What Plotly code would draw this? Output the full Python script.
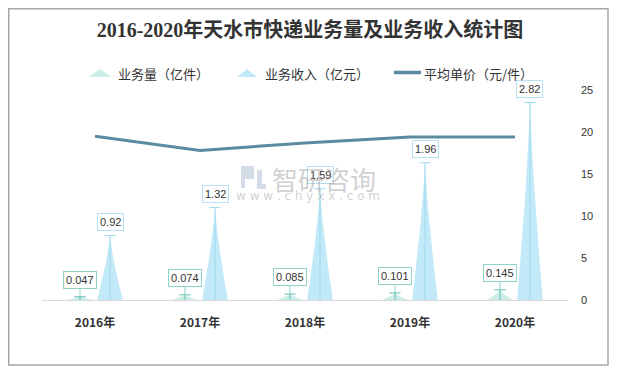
import plotly.graph_objects as go

years = ["2016年", "2017年", "2018年", "2019年", "2020年"]
volume = [0.047, 0.074, 0.085, 0.101, 0.145]      # 业务量（亿件）
revenue = [0.92, 1.32, 1.59, 1.96, 2.82]         # 业务收入（亿元）
avg_price = [19.5, 17.8, 18.7, 19.4, 19.4]       # 平均单价（元/件）
right_ticks = [0, 5, 10, 15, 20, 25]
legend_names = ["业务量（亿件）", "业务收入（亿元）", "平均单价（元/件）"]

W, H = 609, 360
ML, MR, MT, MB = 34, 49, 82, 68
PW, PH = W - ML - MR, H - MT - MB


def pxx(x):
    return (x - ML) / PW


def pxy(y):
    return (H - MB - y) / PH


OFF = 0.143
HALF = 0.122
N_SEG = 12
EXP = 1.3

vol_fill = "#cdeee8"
vol_edge = "#5fc0b0"
rev_fill = "#c2e9f8"
rev_edge = "#9fd8ee"
line_col = "#5a8ba1"


def spike_path(xc, v):
    xs, ys = [], []
    for k in range(N_SEG + 1):
        h = k / N_SEG
        xs.append(xc - HALF * (1 - h) ** EXP)
        ys.append(v * h)
    for k in range(N_SEG - 1, -1, -1):
        h = k / N_SEG
        xs.append(xc + HALF * (1 - h) ** EXP)
        ys.append(v * h)
    xs.append(None)
    ys.append(None)
    return xs, ys


fig = go.Figure()

for vals, off, fill, edge in [(volume, -OFF, vol_fill, vol_edge), (revenue, OFF, rev_fill, rev_edge)]:
    px, py, cx, cy = [], [], [], []
    for i, v in enumerate(vals):
        a, b = spike_path(i + off, v)
        px += a
        py += b
        cx += [i + off, i + off, None]
        cy += [0, v, None]
    fig.add_trace(go.Scatter(x=px, y=py, mode="lines", fill="toself", fillcolor=fill,
                             line=dict(width=0, color=fill), showlegend=False,
                             hoverinfo="skip", yaxis="y"))
    fig.add_trace(go.Scatter(x=cx, y=cy, mode="lines", line=dict(width=1, color=edge),
                             showlegend=False, hoverinfo="skip", yaxis="y"))
    fig.add_trace(go.Scatter(x=[i + off for i in range(len(vals))], y=vals, mode="markers",
                             marker=dict(symbol="line-ew", size=8, line=dict(width=1, color=edge)),
                             showlegend=False, hoverinfo="skip", yaxis="y"))

fig.add_trace(go.Scatter(x=list(range(len(years))), y=avg_price, mode="lines",
                         name=legend_names[2], line=dict(color=line_col, width=3),
                         yaxis="y2", showlegend=False))

txt_font = dict(size=11, color="#333333", family="Liberation Sans, Arial")
annos = []
for i, v in enumerate(revenue):
    annos.append(dict(x=i + OFF, y=v, xref="x", yref="y", text=f"{v:.2f}", showarrow=False,
                      yshift=14, bgcolor="rgba(255,255,255,0.9)", bordercolor="#b5e2f3",
                      borderwidth=1, borderpad=2, font=txt_font))
for i, v in enumerate(volume):
    annos.append(dict(x=i - OFF, y=v, xref="x", yref="y", text=f"{v:g}", showarrow=True,
                      ax=0, ay=-17, arrowhead=0, arrowwidth=1, arrowcolor="#8fd3c8",
                      bgcolor="white", bordercolor="#8fd3c8", borderwidth=1, borderpad=2,
                      font=txt_font))

# watermark
wm = "rgba(150,150,150,0.45)"
annos.append(dict(x=pxx(316), y=pxy(170), xref="paper", yref="paper", text="智研咨询",
                  showarrow=False, font=dict(size=26, color=wm, family="Noto Sans CJK SC")))
annos.append(dict(x=pxx(300), y=pxy(188), xref="paper", yref="paper",
                  text="w w w . c h y x x . c o m", showarrow=False,
                  font=dict(size=12, color=wm, family="DejaVu Sans")))

# manual legend texts
leg_font = dict(size=13, color="#333333", family="Noto Sans CJK SC")
for name, x0 in zip(legend_names, [108, 255, 414]):
    annos.append(dict(x=pxx(x0), y=pxy(65), xref="paper", yref="paper", text=name,
                      showarrow=False, xanchor="left", yanchor="middle", font=leg_font))

shapes = [
    # outer frame
    dict(type="rect", xref="paper", yref="paper", x0=pxx(0.75), x1=pxx(600), y0=pxy(357),
         y1=pxy(0.75), line=dict(color="#a6a6a6", width=1.5), fillcolor="rgba(0,0,0,0)",
         layer="below"),
    # legend icons
    dict(type="path", xref="paper", yref="paper",
         path=f"M {pxx(80)},{pxy(69)} L {pxx(92)},{pxy(61)} L {pxx(104)},{pxy(69)} Z",
         fillcolor=vol_fill, line=dict(width=0)),
    dict(type="path", xref="paper", yref="paper",
         path=f"M {pxx(229)},{pxy(69)} L {pxx(239)},{pxy(61)} L {pxx(249)},{pxy(69)} Z",
         fillcolor=rev_fill, line=dict(width=0)),
    dict(type="line", xref="paper", yref="paper", x0=pxx(386), x1=pxx(413), y0=pxy(64.5),
         y1=pxy(64.5), line=dict(color=line_col, width=3.5)),
    # watermark logo (simplified)
    dict(type="path", xref="paper", yref="paper",
         path=(f"M {pxx(233)},{pxy(158)} L {pxx(246)},{pxy(158)} L {pxx(246)},{pxy(171)} "
               f"L {pxx(237)},{pxy(171)} L {pxx(237)},{pxy(180)} L {pxx(233)},{pxy(180)} Z"),
         fillcolor="rgba(170,185,210,0.5)", line=dict(width=0)),
    dict(type="path", xref="paper", yref="paper",
         path=(f"M {pxx(249)},{pxy(162)} L {pxx(254)},{pxy(162)} L {pxx(254)},{pxy(176)} "
               f"L {pxx(258)},{pxy(176)} L {pxx(258)},{pxy(181)} L {pxx(249)},{pxy(181)} Z"),
         fillcolor="rgba(170,185,210,0.5)", line=dict(width=0)),
]

fig.update_layout(
    width=W, height=H,
    margin=dict(l=ML, r=MR, t=MT, b=MB, autoexpand=False),
    paper_bgcolor="white", plot_bgcolor="white",
    title=dict(text="<b>2016-2020年天水市快递业务量及业务收入统计图</b>", x=302 / W,
               xanchor="center", y=1 - 22 / H, yanchor="middle",
               font=dict(size=20, color="#333333", family="Liberation Serif, Noto Sans CJK SC")),
    showlegend=False,
    xaxis=dict(range=[-0.505, 4.505], tickvals=list(range(len(years))), ticktext=years,
               showgrid=False, zeroline=False, showline=True, linecolor="#d9d9d9", linewidth=1,
               ticks="", ticklabelstandoff=12,
               tickfont=dict(size=12, color="#333333", family="Noto Sans CJK SC", weight="bold")),
    yaxis=dict(range=[0, 3], visible=False, fixedrange=True),
    yaxis2=dict(range=[0, 25], overlaying="y", side="right", tickvals=right_ticks,
                showgrid=False, zeroline=False, showline=False, ticks="", ticklabelstandoff=12,
                tickfont=dict(size=11, color="#333333", family="Liberation Sans, Arial")),
    annotations=annos,
    shapes=shapes,
)

fig.write_html("out.html")
